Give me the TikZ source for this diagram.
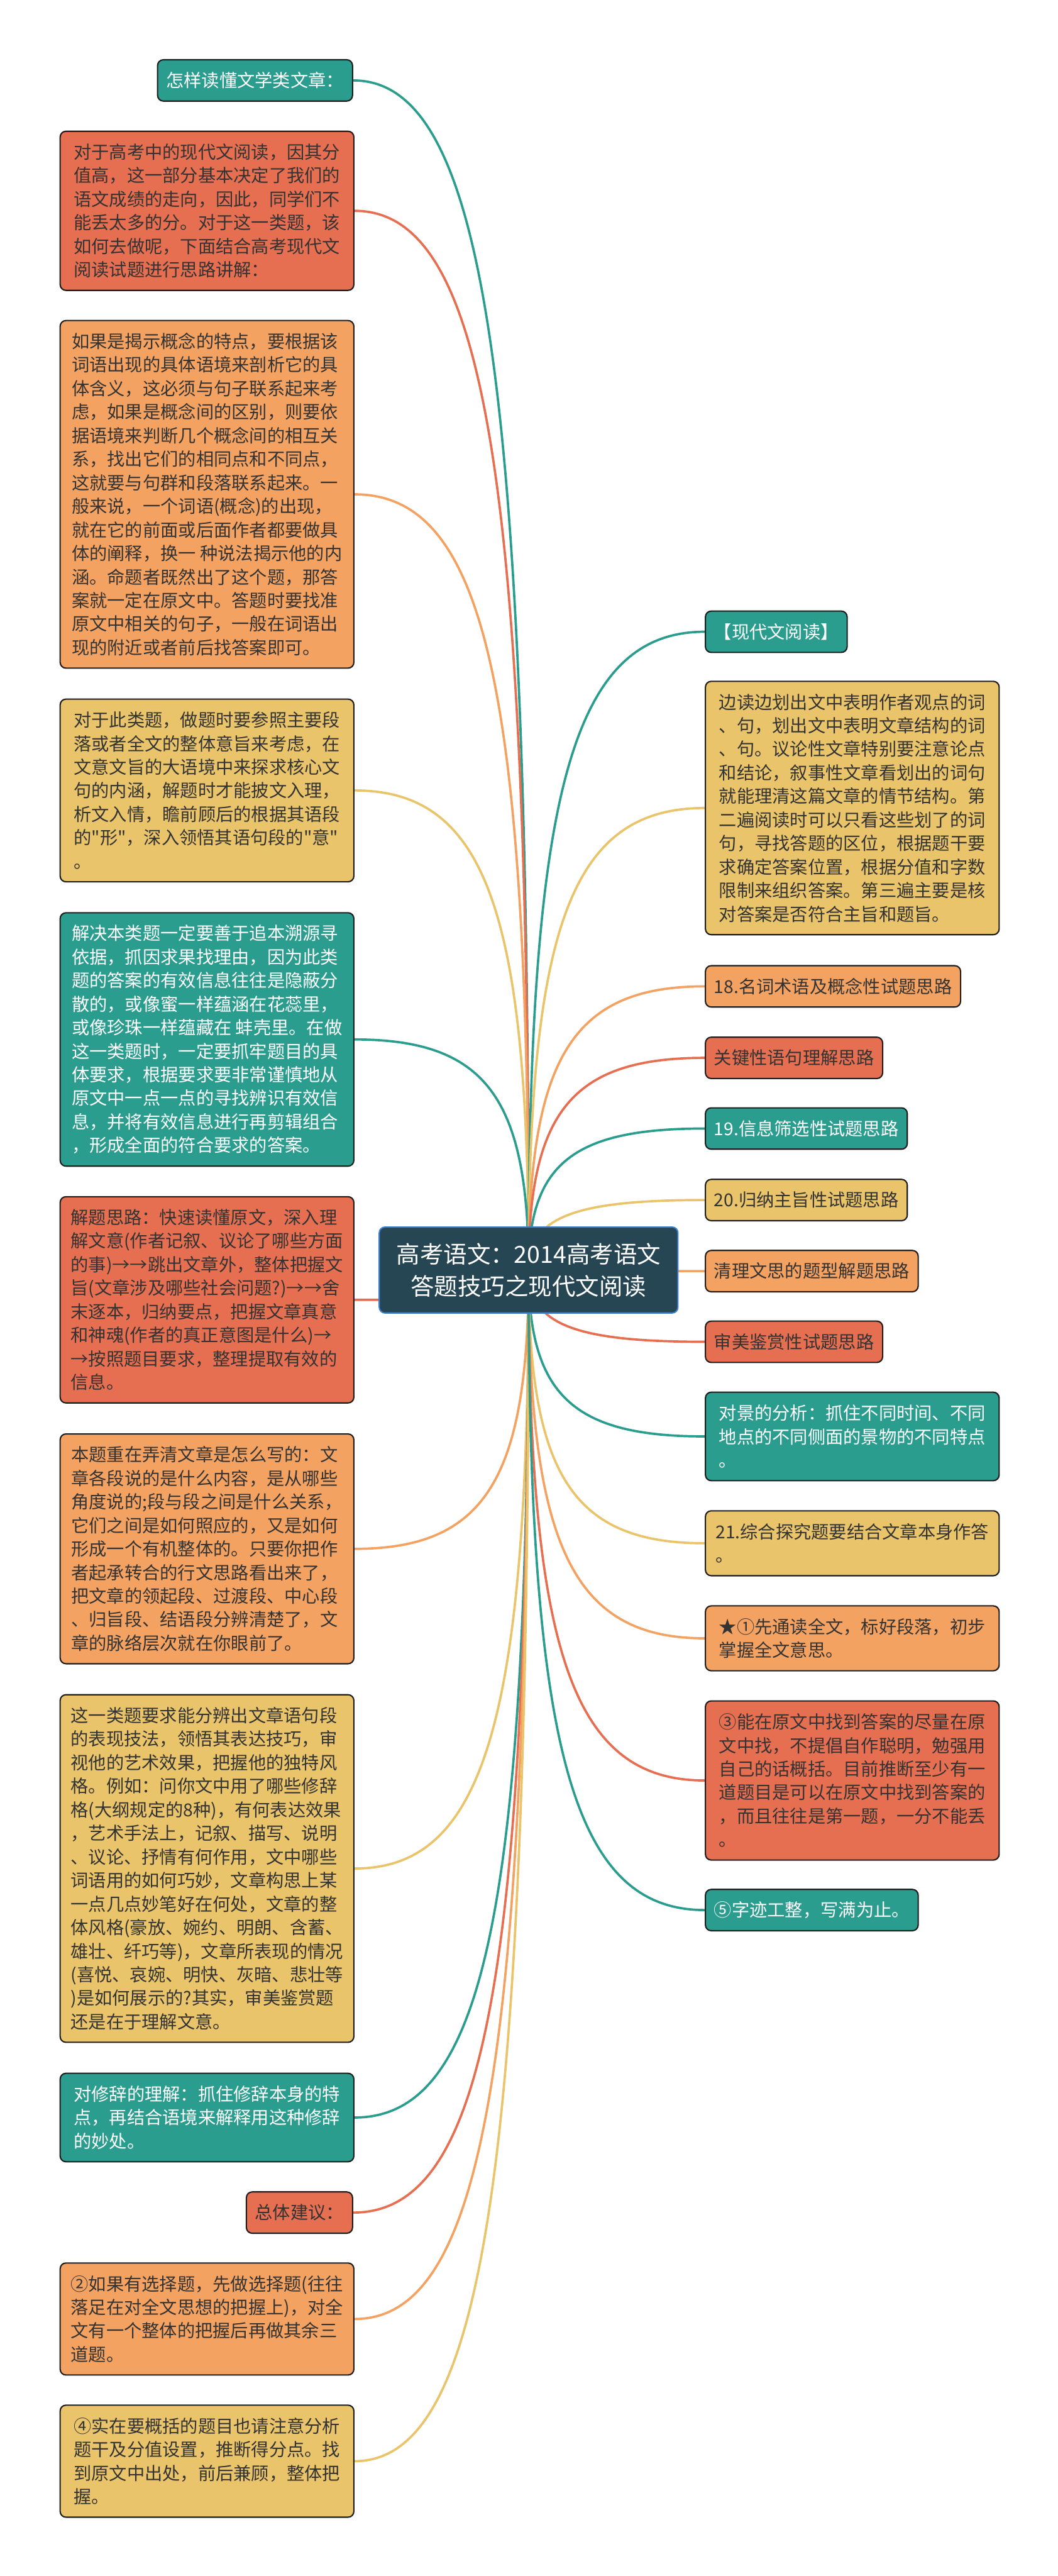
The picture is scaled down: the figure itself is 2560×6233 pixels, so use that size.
\documentclass[tikz,border=0pt]{standalone}
\usepackage{fontspec}
\newfontfamily\cjk{Noto Sans CJK SC}
\usetikzlibrary{calc,backgrounds}
\definecolor{cteal}{HTML}{2A9D8F}
\definecolor{cred}{HTML}{E76F51}
\definecolor{corange}{HTML}{F4A261}
\definecolor{cyellow}{HTML}{E9C46A}
\definecolor{cdark}{HTML}{264653}
\definecolor{cblue}{HTML}{3F7FD0}
\definecolor{bline}{HTML}{1E1E1E}
\definecolor{tdark}{HTML}{333333}
\tikzset{
 mmbox/.style={draw=bline, line width=0.8pt, rounded corners=3.5pt, align=left,
   inner xsep=5.25pt, inner ysep=0pt, font=\cjk\fontsize{10.75pt}{14.25pt}\selectfont,
   text=tdark, minimum height=25pt},
 wide/.style={minimum width=177.75pt},
 bteal/.style={mmbox, fill=cteal, text=white},
 bred/.style={mmbox, fill=cred},
 borange/.style={mmbox, fill=corange},
 byellow/.style={mmbox, fill=cyellow},
 conn/.style={line width=1.4pt},
 rootbox/.style={draw=cblue, line width=0.8pt, fill=cdark, text=white, rounded corners=3.5pt,
   align=center, font=\cjk\fontsize{14.25pt}{19.25pt}\selectfont,
   minimum width=180.75pt, minimum height=52pt, inner sep=0pt}
}
\newcommand\mmlink[2]{%
  \coordinate (mmk) at (c.center |- #2);
  \draw[#1, conn] (c.center) .. controls ($(c.center)!0.75!(mmk)$) and ($(#2)!0.75!(mmk)$) .. (#2);}
\begin{document}
\begin{tikzpicture}[x=0.25pt, y=-0.25pt]
\useasboundingbox (0,0) rectangle (2560,6233);
% root
\node[rootbox] (c) at (1279.5,3073) {高考语文：2014高考语文\\答题技巧之现代文阅读};
% left column
\node[bteal, anchor=north east] (b1) at (855,143) {怎样读懂文学类文章：};
\node[bred, wide, anchor=north west, minimum height=96.25pt] (b2) at (144,316) {对于高考中的现代文阅读，因其分\\值高，这一部分基本决定了我们的\\语文成绩的走向，因此，同学们不\\能丢太多的分。对于这一类题，该\\如何去做呢，下面结合高考现代文\\阅读试题进行思路讲解：};
\node[borange, wide, anchor=north west, minimum height=210.25pt] (b3) at (144,774) {如果是揭示概念的特点，要根据该\\词语出现的具体语境来剖析它的具\\体含义，这必须与句子联系起来考\\虑，如果是概念间的区别，则要依\\据语境来判断几个概念间的相互关\\系，找出它们的相同点和不同点，\\这就要与句群和段落联系起来。一\\般来说，一个词语(概念)的出现，\\就在它的前面或后面作者都要做具\\体的阐释，换一 种说法揭示他的内\\涵。命题者既然出了这个题，那答\\案就一定在原文中。答题时要找准\\原文中相关的句子，一般在词语出\\现的附近或者前后找答案即可。};
\node[byellow, wide, anchor=north west, minimum height=110.5pt] (b4) at (144,1690) {对于此类题，做题时要参照主要段\\落或者全文的整体意旨来考虑，在\\文意文旨的大语境中来探求核心文\\句的内涵，解题时才能披文入理，\\析文入情，瞻前顾后的根据其语段\\的"形"，深入领悟其语句段的"意"\\。};
\node[bteal, wide, anchor=north west, minimum height=153.25pt] (b5) at (144,2207) {解决本类题一定要善于追本溯源寻\\依据，抓因求果找理由，因为此类\\题的答案的有效信息往往是隐蔽分\\散的，或像蜜一样蕴涵在花蕊里，\\或像珍珠一样蕴藏在 蚌壳里。在做\\这一类题时，一定要抓牢题目的具\\体要求，根据要求要非常谨慎地从\\原文中一点一点的寻找辨识有效信\\息，并将有效信息进行再剪辑组合\\，形成全面的符合要求的答案。};
\node[bred, wide, anchor=north west, minimum height=124.75pt] (b6) at (144,2894) {解题思路：快速读懂原文，深入理\\解文意(作者记叙、议论了哪些方面\\的事)→→跳出文章外，整体把握文\\旨(文章涉及哪些社会问题?)→→舍\\末逐本，归纳要点，把握文章真意\\和神魂(作者的真正意图是什么)→\\→按照题目要求，整理提取有效的\\信息。};
\node[borange, wide, anchor=north west, minimum height=139pt] (b7) at (144,3468) {本题重在弄清文章是怎么写的：文\\章各段说的是什么内容，是从哪些\\角度说的;段与段之间是什么关系，\\它们之间是如何照应的，又是如何\\形成一个有机整体的。只要你把作\\者起承转合的行文思路看出来了，\\把文章的领起段、过渡段、中心段\\、归旨段、结语段分辨清楚了，文\\章的脉络层次就在你眼前了。};
\node[byellow, wide, anchor=north west, minimum height=210.25pt] (b8) at (144,4099) {这一类题要求能分辨出文章语句段\\的表现技法，领悟其表达技巧，审\\视他的艺术效果，把握他的独特风\\格。例如：问你文中用了哪些修辞\\格(大纲规定的8种)，有何表达效果\\，艺术手法上，记叙、描写、说明\\、议论、抒情有何作用，文中哪些\\词语用的如何巧妙，文章构思上某\\一点几点妙笔好在何处，文章的整\\体风格(豪放、婉约、明朗、含蓄、\\雄壮、纤巧等)，文章所表现的情况\\(喜悦、哀婉、明快、灰暗、悲壮等\\)是如何展示的?其实，审美鉴赏题\\还是在于理解文意。};
\node[bteal, wide, anchor=north west, minimum height=53.5pt] (b9) at (144,5015) {对修辞的理解：抓住修辞本身的特\\点，再结合语境来解释用这种修辞\\的妙处。};
\node[bred, anchor=north east] (b10) at (855,5302) {总体建议：};
\node[borange, wide, anchor=north west, minimum height=67.75pt] (b11) at (144,5474) {②如果有选择题，先做选择题(往往\\落足在对全文思想的把握上)，对全\\文有一个整体的把握后再做其余三\\道题。};
\node[byellow, wide, anchor=north west, minimum height=67.75pt] (b12) at (144,5818) {④实在要概括的题目也请注意分析\\题干及分值设置，推断得分点。找\\到原文中出处，前后兼顾，整体把\\握。};
% right column
\node[bteal, anchor=north west] (r1) at (1706,1477) {【现代文阅读】};
\node[byellow, wide, anchor=north west, minimum height=153.25pt] (r2) at (1706,1647) {边读边划出文中表明作者观点的词\\、句，划出文中表明文章结构的词\\、句。议论性文章特别要注意论点\\和结论，叙事性文章看划出的词句\\就能理清这篇文章的情节结构。第\\二遍阅读时可以只看这些划了的词\\句，寻找答题的区位，根据题干要\\求确定答案位置，根据分值和字数\\限制来组织答案。第三遍主要是核\\对答案是否符合主旨和题旨。};
\node[borange, anchor=north west] (r3) at (1706,2335) {18.名词术语及概念性试题思路};
\node[bred, anchor=north west] (r4) at (1706,2508) {关键性语句理解思路};
\node[bteal, anchor=north west] (r5) at (1706,2679) {19.信息筛选性试题思路};
\node[byellow, anchor=north west] (r6) at (1706,2852) {20.归纳主旨性试题思路};
\node[borange, anchor=north west] (r7) at (1706,3024) {清理文思的题型解题思路};
\node[bred, anchor=north west] (r8) at (1706,3195) {审美鉴赏性试题思路};
\node[bteal, wide, anchor=north west, minimum height=53.5pt] (r9) at (1706,3367) {对景的分析：抓住不同时间、不同\\地点的不同侧面的景物的不同特点\\。};
\node[byellow, wide, anchor=north west, minimum height=39.25pt] (r10) at (1706,3654) {21.综合探究题要结合文章本身作答\\。};
\node[borange, wide, anchor=north west, minimum height=39.25pt] (r11) at (1706,3884) {★①先通读全文，标好段落，初步\\掌握全文意思。};
\node[bred, wide, anchor=north west, minimum height=96.25pt] (r12) at (1706,4114) {③能在原文中找到答案的尽量在原\\文中找，不提倡自作聪明，勉强用\\自己的话概括。目前推断至少有一\\道题目是可以在原文中找到答案的\\，而且往往是第一题，一分不能丢\\。};
\node[bteal, anchor=north west] (r13) at (1706,4570) {⑤字迹工整，写满为止。};
% connectors
\begin{scope}[on background layer]
\fill[white] (0,0) rectangle (2560,6233);
\mmlink{cteal}{b1.east}
\mmlink{cred}{b2.east}
\mmlink{corange}{b3.east}
\mmlink{cyellow}{b4.east}
\mmlink{cteal}{b5.east}
\mmlink{cred}{b6.east}
\mmlink{corange}{b7.east}
\mmlink{cyellow}{b8.east}
\mmlink{cteal}{b9.east}
\mmlink{cred}{b10.east}
\mmlink{corange}{b11.east}
\mmlink{cyellow}{b12.east}
\mmlink{cteal}{r1.west}
\mmlink{cyellow}{r2.west}
\mmlink{corange}{r3.west}
\mmlink{cred}{r4.west}
\mmlink{cteal}{r5.west}
\mmlink{cyellow}{r6.west}
\mmlink{corange}{r7.west}
\mmlink{cred}{r8.west}
\mmlink{cteal}{r9.west}
\mmlink{cyellow}{r10.west}
\mmlink{corange}{r11.west}
\mmlink{cred}{r12.west}
\mmlink{cteal}{r13.west}
\end{scope}
\end{tikzpicture}
\end{document}
